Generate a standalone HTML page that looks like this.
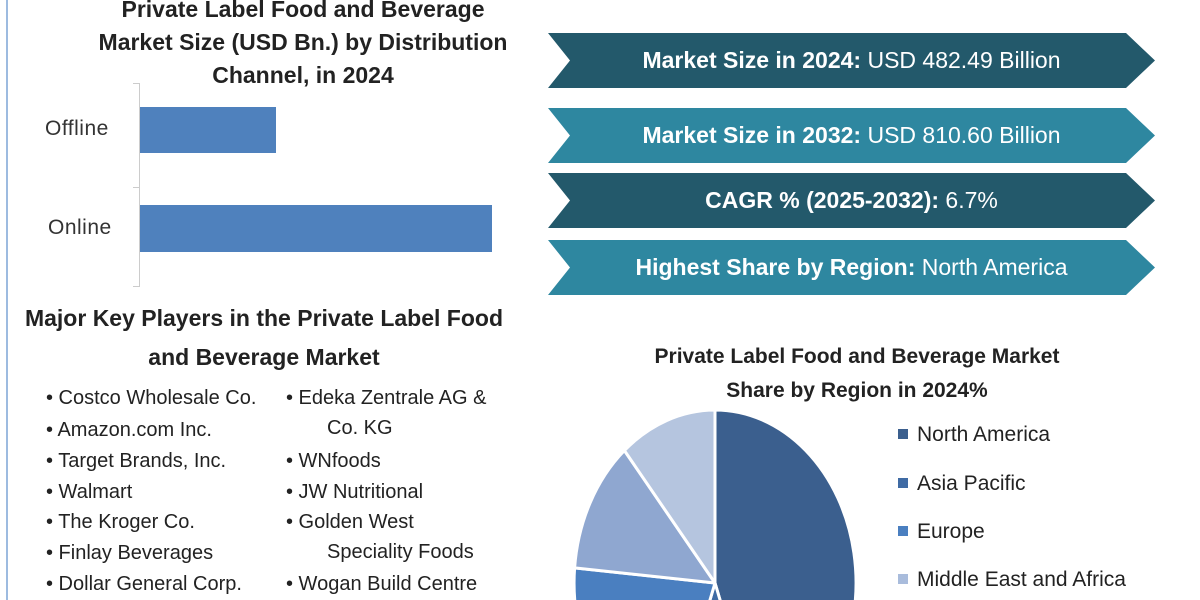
<!DOCTYPE html>
<html><head><meta charset="utf-8"><style>
html,body{margin:0;width:1200px;height:600px;overflow:hidden}
body{background:#fff;font-family:"Liberation Sans",sans-serif;position:relative}
.a{position:absolute}
.t{font-weight:bold;color:#222;text-align:center;white-space:nowrap}
.li{position:absolute;font-size:20px;color:#222;white-space:nowrap;line-height:24px}
.ban{position:absolute;left:548px;width:607px;height:55px;color:#fff;font-size:23px;line-height:55px;text-align:center;white-space:nowrap;clip-path:polygon(0 0,578px 0,607px 50%,578px 100%,0 100%,22px 50%)}
.lg{position:absolute;left:898px;font-size:21px;color:#222;white-space:nowrap;line-height:24px}
.lg i{display:inline-block;width:10px;height:10px;margin-right:9px;vertical-align:2px}
</style></head><body>
<div class="a" style="left:6px;top:0;width:2px;height:600px;background:#9dbbe0"></div>
<div class="a t" style="left:40px;width:526px;top:-7px;font-size:23px;line-height:33px">Private Label Food and Beverage<br>Market Size (USD Bn.) by Distribution<br>Channel, in 2024</div>
<div class="a" style="left:139px;top:83px;width:1px;height:204px;background:#ccc"></div>
<div class="a" style="left:133px;top:83px;width:6px;height:1px;background:#ccc"></div>
<div class="a" style="left:133px;top:187px;width:6px;height:1px;background:#ccc"></div>
<div class="a" style="left:133px;top:286px;width:6px;height:1px;background:#ccc"></div>
<div class="a" style="left:140px;top:107px;width:136px;height:46px;background:#4f81bd"></div>
<div class="a" style="left:140px;top:205px;width:352px;height:47px;background:#4f81bd"></div>
<div class="a" style="left:45px;top:117px;font-size:21px;color:#333;letter-spacing:0.5px;line-height:24px">Offline</div>
<div class="a" style="left:48px;top:216px;font-size:21px;color:#333;letter-spacing:0.5px;line-height:24px">Online</div>

<div class="a t" style="left:0;width:528px;top:299px;font-size:23px;line-height:39px">Major Key Players in the Private Label Food<br>and Beverage Market</div>
<div class="li" style="left:46px;top:386px">• Costco Wholesale Co.</div>
<div class="li" style="left:46px;top:418px">• Amazon.com Inc.</div>
<div class="li" style="left:46px;top:449px">• Target Brands, Inc.</div>
<div class="li" style="left:46px;top:480px">• Walmart</div>
<div class="li" style="left:46px;top:510px">• The Kroger Co.</div>
<div class="li" style="left:46px;top:541px">• Finlay Beverages</div>
<div class="li" style="left:46px;top:572px">• Dollar General Corp.</div>
<div class="li" style="left:286px;top:386px">• Edeka Zentrale AG &amp;</div>
<div class="li" style="left:327px;top:416px">Co. KG</div>
<div class="li" style="left:286px;top:449px">• WNfoods</div>
<div class="li" style="left:286px;top:480px">• JW Nutritional</div>
<div class="li" style="left:286px;top:510px">• Golden West</div>
<div class="li" style="left:327px;top:540px">Speciality Foods</div>
<div class="li" style="left:286px;top:572px">• Wogan Build Centre</div>

<div class="ban" style="top:33px;background:#23596b"><b>Market Size in 2024:</b> USD 482.49 Billion</div>
<div class="ban" style="top:108px;background:#2e87a0"><b>Market Size in 2032:</b> USD 810.60 Billion</div>
<div class="ban" style="top:173px;background:#23596b"><b>CAGR % (2025-2032):</b> 6.7%</div>
<div class="ban" style="top:240px;background:#2e87a0"><b>Highest Share by Region:</b> North America</div>

<div class="a t" style="left:600px;width:514px;top:340px;font-size:21px;line-height:34px">Private Label Food and Beverage Market<br>Share by Region in 2024%</div>
<svg class="a" style="left:0;top:0" width="1200" height="600">
<g stroke="#fff" stroke-width="3" stroke-linejoin="round">
<path d="M715 583 L715 410 A141 173 0 0 1 763.2 745.6 Z" fill="#3b5f8e"/>
<path d="M715 583 L763.2 745.6 A141 173 0 0 1 666.8 745.6 Z" fill="#3f6ba4"/>
<path d="M715 583 L666.8 745.6 A141 173 0 0 1 574.6 567.9 Z" fill="#4a7fc0"/>
<path d="M715 583 L574.6 567.9 A141 173 0 0 1 624.4 450.5 Z" fill="#8fa7d0"/>
<path d="M715 583 L624.4 450.5 A141 173 0 0 1 715 410 Z" fill="#b5c5df"/>
</g></svg>
<div class="lg" style="top:423px"><i style="background:#3b5f8e"></i>North America</div>
<div class="lg" style="top:472px"><i style="background:#3f6ba4"></i>Asia Pacific</div>
<div class="lg" style="top:520px"><i style="background:#4a7fc0"></i>Europe</div>
<div class="lg" style="top:568px"><i style="background:#a9bcdc"></i>Middle East and Africa</div>
</body></html>
